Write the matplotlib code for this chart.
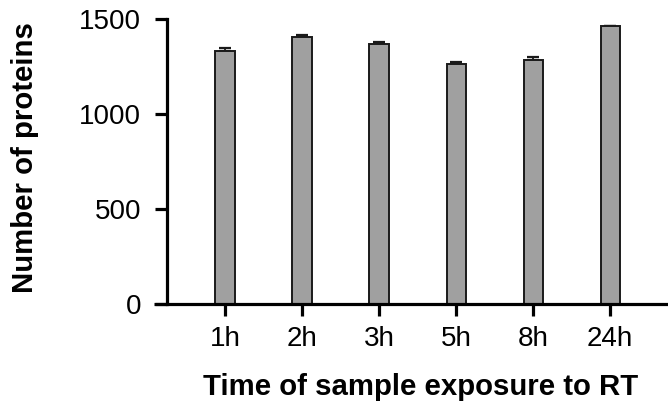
import matplotlib
matplotlib.use("Agg")
import matplotlib.pyplot as plt

categories = ["1h", "2h", "3h", "5h", "8h", "24h"]
values = [1332, 1405, 1370, 1261, 1284, 1461]
errors = [15, 9, 11, 13, 18, 2]
yticks = [0, 500, 1000, 1500]

plt.rcParams['font.family'] = ['Liberation Sans', 'DejaVu Sans']

fig = plt.figure(figsize=(6.68, 4.08), dpi=100)
ax = fig.add_axes([154/668, 104/408, 514/668, 285/408])

x = list(range(len(categories)))
ax.bar(x, values, width=0.25, color='#a0a0a0', edgecolor='#1a1a1a', linewidth=1.4, zorder=2)
ax.errorbar(x, values, yerr=[[0]*len(errors), errors], fmt='none', ecolor='#1a1a1a',
            elinewidth=1.3, capsize=4.5, capthick=1.6, zorder=1)

ax.set_xlim(-0.922, 5.75)
ax.set_ylim(0, 1500)
ax.spines['top'].set_visible(False)
ax.spines['right'].set_visible(False)
ax.spines['left'].set_position(('data', -0.753))
for s in ['left', 'bottom']:
    ax.spines[s].set_linewidth(2.3)
ax.spines['bottom'].set_capstyle('butt')

ax.set_xticks(x)
ax.set_xticklabels(categories)
ax.set_yticks(yticks)
ax.set_yticklabels([str(v) for v in yticks])
ax.tick_params(axis='both', length=8.5, width=2.3, labelsize=20, color='black')
ax.tick_params(axis='y', pad=10)
ax.tick_params(axis='x', pad=7)

fig.text(25/668, 1 - 158/408, "Number of proteins", rotation=90, ha='center', va='center',
         fontsize=21.2, fontweight='bold')
fig.text(421/668, 1 - 387/408, "Time of sample exposure to RT", ha='center', va='center',
         fontsize=21.2, fontweight='bold')

fig.savefig("out.png", dpi=100)
